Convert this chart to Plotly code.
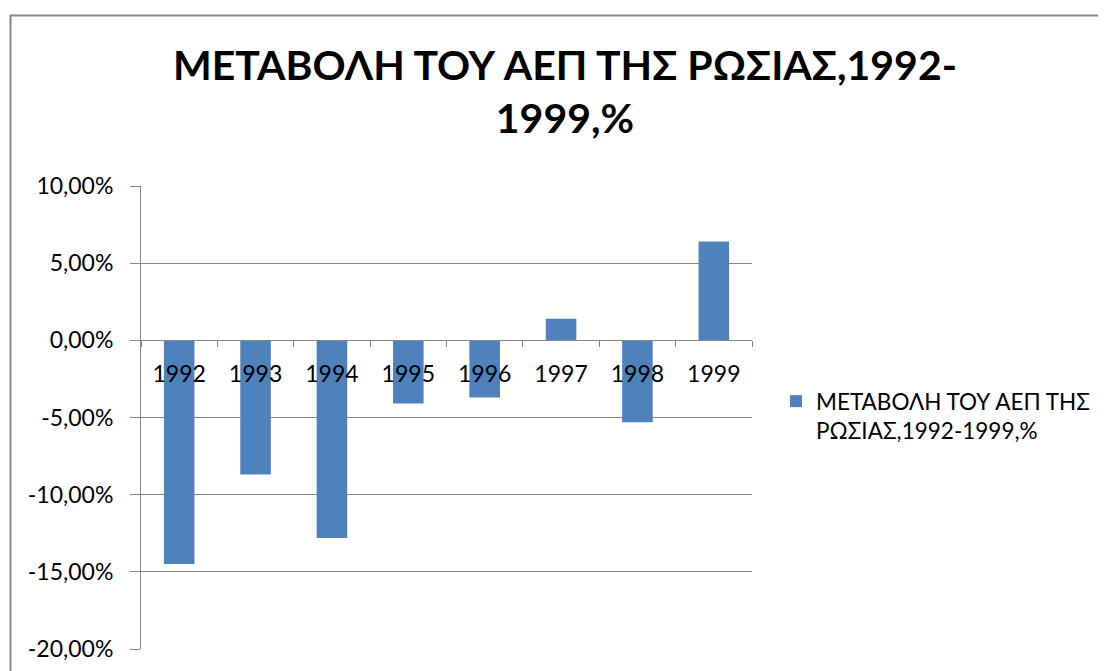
import plotly.graph_objects as go

years = ["1992", "1993", "1994", "1995", "1996", "1997", "1998", "1999"]
gdp_change = [-0.145, -0.087, -0.128, -0.041, -0.037, 0.014, -0.053, 0.064]
series_name = "ΜΕΤΑΒΟΛΗ ΤΟΥ ΑΕΠ ΤΗΣ<br>ΡΩΣΙΑΣ,1992-1999,%"
title_text = "ΜΕΤΑΒΟΛΗ ΤΟΥ ΑΕΠ ΤΗΣ ΡΩΣΙΑΣ,1992-<br>1999,%"
y_tickvals = [-0.20, -0.15, -0.10, -0.05, 0.0, 0.05, 0.10]
y_ticktext = ["-20,00%", "-15,00%", "-10,00%", "-5,00%", "0,00%", "5,00%", "10,00%"]

# page body has an 8px margin, so work in screen pixels and shift
OFF = 8
W, H = 1106 - OFF, 671 - OFF
L, R, T, B = 141, 752, 186, 649          # plot area in screen px
ymin, ymax = -0.20, 0.10
grey = "#868686"
body_font = dict(family="Lato", size=23, color="#000000")
legend_font = dict(family="Lato", size=22.5, color="#000000")

fig = go.Figure()
fig.add_trace(go.Bar(
    x=years, y=gdp_change, name=series_name,
    marker=dict(color="#4F81BD", line=dict(width=0)),
    showlegend=True,
))

def px_x(p):
    return (p - L) / (R - L)

def px_y(p):
    return (B - p) / (B - T)

fig.update_layout(
    width=W, height=H,
    margin=dict(l=L - OFF, r=(W + OFF) - R, t=T - OFF, b=(H + OFF) - B, pad=0,
                autoexpand=False),
    paper_bgcolor="white", plot_bgcolor="white",
    font=body_font,
    bargap=0.6,
    title=dict(
        text=title_text,
        font=dict(family="Lato", size=41, color="#000000", weight="bold"),
        x=(565 - OFF) / W, xanchor="center", xref="container",
        y=1 - 72 / H, yanchor="top", yref="container",
    ),
    xaxis=dict(
        type="category",
        anchor="free",
        position=(0 - ymin) / (ymax - ymin),
        showline=True, linecolor=grey, linewidth=1,
        ticks="outside", ticklen=6, tickcolor=grey, tickwidth=1,
        tickson="boundaries",
        showgrid=False,
        tickfont=body_font,
        ticklabelstandoff=13,
        automargin=False,
        fixedrange=True,
    ),
    yaxis=dict(
        range=[ymin, ymax],
        tickvals=y_tickvals, ticktext=y_ticktext,
        showline=True, linecolor=grey, linewidth=1,
        ticks="outside", ticklen=10, tickcolor=grey, tickwidth=1,
        showgrid=True, gridcolor=grey, gridwidth=1,
        zeroline=False,
        tickfont=body_font,
        ticklabelstandoff=12,
        automargin=False,
        fixedrange=True,
    ),
    legend=dict(
        x=(776 - OFF) / W, y=1 - (380 - OFF) / H, xanchor="left", yanchor="top",
        xref="container", yref="container",
        font=legend_font, valign="top",
        bgcolor="rgba(0,0,0,0)",
    ),
    shapes=[dict(
        type="rect", xref="paper", yref="paper",
        x0=px_x(10.5), x1=px_x(1106 + 20), y0=px_y(671 + 20), y1=px_y(15.5),
        line=dict(color=grey, width=2), fillcolor="rgba(0,0,0,0)",
        layer="below",
    )],
)

fig.write_html("out.html")
